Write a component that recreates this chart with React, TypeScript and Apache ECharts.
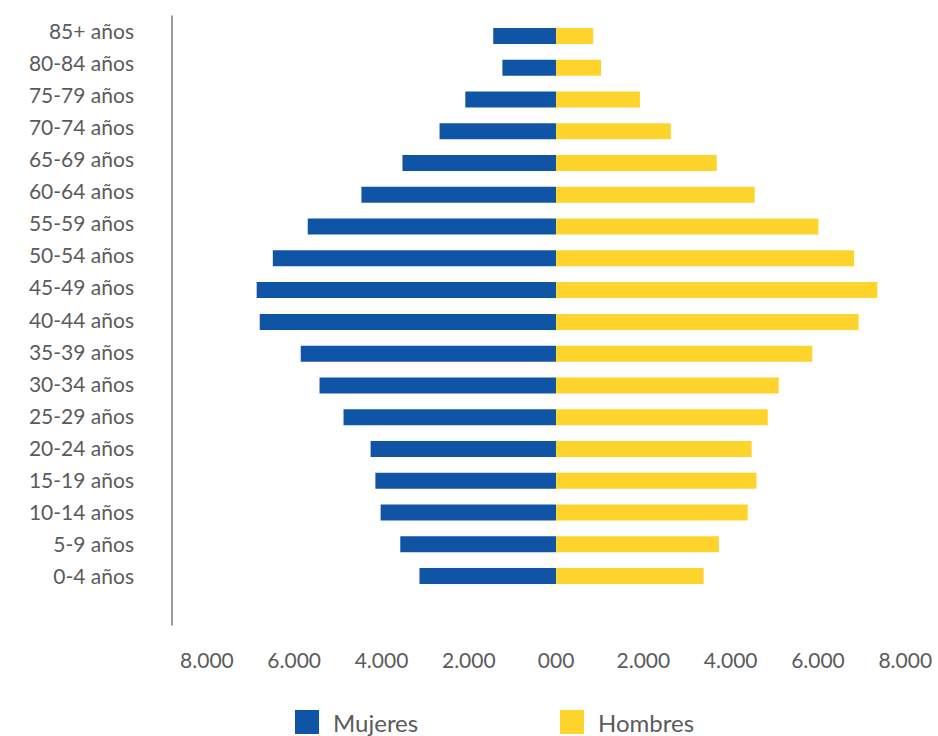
import React, { useEffect, useRef } from "react";
import * as echarts from "echarts";

const categories = [
  "0-4 años", "5-9 años", "10-14 años", "15-19 años", "20-24 años", "25-29 años",
  "30-34 años", "35-39 años", "40-44 años", "45-49 años", "50-54 años", "55-59 años",
  "60-64 años", "65-69 años", "70-74 años", "75-79 años", "80-84 años", "85+ años",
];
const mujeres = [3130, 3570, 4020, 4140, 4250, 4870, 5420, 5850, 6790, 6860, 6490, 5690, 4460, 3520, 2670, 2080, 1230, 1440];
const hombres = [3380, 3730, 4390, 4590, 4480, 4850, 5100, 5870, 6930, 7360, 6830, 6010, 4550, 3680, 2630, 1920, 1030, 850];
const xTicks = [-8000, -6000, -4000, -2000, 0, 2000, 4000, 6000, 8000];

const FONT = "Lato";
const GRAY = "#5a5b5d";
const BLUE = "#1054a6";
const YELLOW = "#fed42c";

function fmt(v: number): string {
  const a = Math.abs(Math.round(v));
  if (a < 1000) return String(a).padStart(3, "0");
  return Math.floor(a / 1000) + "." + String(a % 1000).padStart(3, "0");
}

export default function App() {
  const ref = useRef<HTMLDivElement>(null);
  useEffect(() => {
    if (!ref.current) return;
    const chart = echarts.init(ref.current, null, { renderer: "svg" });
    const legendText = { fontFamily: FONT, fontSize: 24, color: GRAY, padding: [0, 0, 0, 9] };
    chart.setOption({
      animation: false,
      grid: [
        { left: 172, right: 0, top: 20, height: 572 },
        { left: 172, right: 0, top: 16, height: 609 },
        { left: 172, right: 0, top: 14, height: 578 },
      ],
      legend: [
        {
          data: ["Mujeres"],
          left: 290,
          top: 705,
          itemWidth: 24,
          itemHeight: 24,
          icon: "rect",
          textStyle: legendText,
        },
        {
          data: ["Hombres"],
          left: 555,
          top: 705,
          itemWidth: 24,
          itemHeight: 24,
          icon: "rect",
          textStyle: legendText,
        },
      ],
      xAxis: [
        {
          type: "value",
          gridIndex: 0,
          min: -8800,
          max: 8750,
          splitLine: { show: false },
          axisLine: { show: false },
          axisTick: { show: false },
          axisLabel: {
            customValues: xTicks,
            formatter: (v: number) => fmt(v),
            margin: 57,
            fontFamily: FONT,
            fontSize: 21,
            color: GRAY,
          },
        },
        { type: "value", gridIndex: 1, min: 0, max: 1, show: false },
        { type: "value", gridIndex: 2, min: 0, max: 1, show: false },
      ],
      yAxis: [
        {
          type: "category",
          gridIndex: 0,
          data: categories,
          axisLine: { show: false },
          axisTick: { show: false },
          axisLabel: { show: false },
        },
        {
          type: "value",
          gridIndex: 1,
          min: 0,
          max: 1,
          splitLine: { show: false },
          axisTick: { show: false },
          axisLabel: { show: false },
          axisLine: { show: true, onZero: false, lineStyle: { color: "#7a7a7a", width: 1.5 } },
        },
        {
          type: "category",
          gridIndex: 2,
          data: categories,
          axisLine: { show: false },
          axisTick: { show: false },
          axisLabel: {
            margin: 38,
            fontFamily: FONT,
            fontSize: 21,
            color: GRAY,
          },
        },
      ],
      series: [
        {
          name: "Mujeres",
          type: "bar",
          xAxisIndex: 0,
          yAxisIndex: 0,
          stack: "pop",
          barWidth: 16,
          itemStyle: { color: BLUE },
          data: mujeres.map((v) => -v),
        },
        {
          name: "Hombres",
          type: "bar",
          xAxisIndex: 0,
          yAxisIndex: 0,
          stack: "pop",
          barWidth: 16,
          itemStyle: { color: YELLOW },
          data: hombres,
        },
      ],
    });
    return () => chart.dispose();
  }, []);
  return (
    <div
      ref={ref}
      style={{ position: "absolute", left: 0, top: 0, width: 938, height: 736 }}
    />
  );
}
